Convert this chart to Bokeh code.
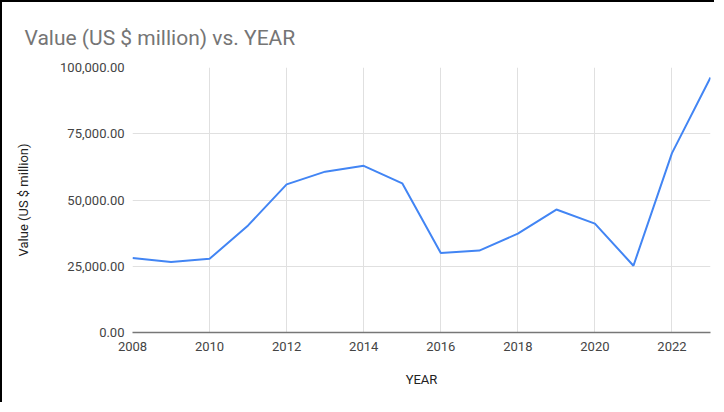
from bokeh.plotting import figure
from bokeh.models import NumeralTickFormatter, FixedTicker, Range1d
from bokeh.embed import file_html
from bokeh.resources import INLINE

years = [2008, 2009, 2010, 2011, 2012, 2013, 2014, 2015, 2016, 2017, 2018, 2019, 2020, 2021, 2022, 2023]
values = [28100, 26600, 27800, 40400, 55900, 60700, 62900, 56300, 30000, 30900, 37300, 46400, 41100, 25200, 67700, 96200]
y_ticks = [0, 25000, 50000, 75000, 100000]
x_ticks = [2008, 2010, 2012, 2014, 2016, 2018, 2020, 2022]
title_text = "Value (US $ million) vs. YEAR"

FONT = "Roboto"

p = figure(width=714, height=402, output_backend="svg", toolbar_location=None,
           x_range=Range1d(2008, 2023), y_range=Range1d(0, 100000),
           min_border_left=130, min_border_right=6, min_border_top=65, min_border_bottom=72)
p.styles = {"border-top": "2px solid #000", "border-left": "2px solid #000"}
p.outline_line_color = None
p.background_fill_color = "white"
p.border_fill_color = "white"

p.title.text = title_text
p.title.text_font = FONT
p.title.text_font_size = "21px"
p.title.text_font_style = "normal"
p.title.text_color = "#757575"
p.title.align = "left"
p.title.vertical_align = "middle"
p.title.offset = -108
p.title.standoff = 33

p.line(years, values, line_color="#4285F4", line_width=2)

p.xaxis.ticker = FixedTicker(ticks=x_ticks)
p.yaxis.ticker = FixedTicker(ticks=y_ticks)
p.yaxis.formatter = NumeralTickFormatter(format="0,0.00")

for ax in (p.xaxis, p.yaxis):
    ax.major_tick_line_color = None
    ax.minor_tick_line_color = None
    ax.major_label_text_font = FONT
    ax.major_label_text_font_size = "13px"
    ax.major_label_text_color = "#444444"
    ax.axis_label_text_font = FONT
    ax.axis_label_text_font_size = "13px"
    ax.axis_label_text_font_style = "normal"
    ax.axis_label_text_color = "#222222"

p.yaxis.axis_line_color = None
p.yaxis.major_label_standoff = 2
p.yaxis.axis_label = "Value (US $ million)"
p.yaxis.axis_label_standoff = 26

p.xaxis.axis_line_color = "#777777"
p.xaxis.axis_line_width = 1.5
p.xaxis.major_label_standoff = 3
p.xaxis.axis_label = "YEAR"
p.xaxis.axis_label_standoff = 18

p.xgrid.grid_line_color = "#e0e0e0"
p.ygrid.grid_line_color = "#e0e0e0"

open("out.html", "w").write(file_html(p, INLINE))
